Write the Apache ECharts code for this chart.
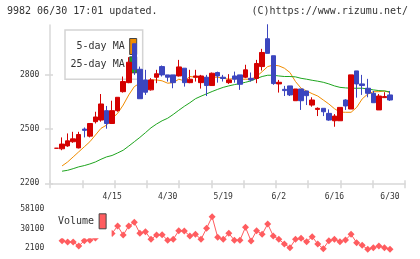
<!DOCTYPE html>
<html>
<head>
<meta charset="utf-8">
<script src="https://cdn.jsdelivr.net/npm/echarts@6/dist/echarts.min.js"></script>
<style>
  html, body { margin: 0; padding: 0; background: #fff; }
  #chart { width: 420px; height: 259px; }
</style>
</head>
<body>
<div id="chart"></div>
<script>
/* 9982 daily chart: candles + 5/25-day MA, volume below */
const dates = [
  '4/1','4/2','4/5','4/6','4/7','4/8','4/9','4/12','4/13','4/14',
  '4/15','4/16','4/19','4/20','4/21','4/22','4/23','4/26','4/27','4/28',
  '4/30','5/6','5/7','5/10','5/11','5/12','5/13','5/14','5/17','5/18',
  '5/19','5/20','5/21','5/24','5/25','5/26','5/27','5/28','5/31','6/1',
  '6/2','6/3','6/4','6/7','6/8','6/9','6/10','6/11','6/14','6/15',
  '6/16','6/17','6/18','6/21','6/22','6/23','6/24','6/25','6/28','6/29',
  '6/30'
];
const openP  = [2394,2391,2407,2430,2396,2500,2461,2541,2550,2602,2531,2602,2707,2757,2972,2831,2772,2717,2787,2846,
                2800,2800,2794,2837,2757,2787,2757,2787,2741,2813,2787,2757,2794,2800,2787,2781,2780,2846,3000,2906,
                2750,2720,2739,2657,2722,2711,2633,2609,2615,2587,2546,2546,2661,2611,2822,2750,2726,2698,2606,2674,2689];
const closeP = [2394,2417,2435,2446,2470,2493,2531,2567,2639,2531,2602,2676,2763,2870,2831,2668,2704,2772,2806,2800,
                2787,2757,2844,2757,2776,2794,2794,2741,2809,2794,2780,2772,2776,2748,2828,2772,2863,2924,2919,2752,
                2759,2713,2689,2722,2657,2685,2661,2615,2596,2550,2572,2620,2628,2800,2750,2741,2698,2646,2683,2680,2661];
const lowP   = [2394,2383,2402,2424,2393,2454,2454,2531,2541,2502,2528,2596,2702,2754,2800,2668,2689,2713,2754,2791,
                2763,2726,2791,2735,2754,2763,2724,2683,2739,2757,2763,2750,2757,2717,2782,2763,2754,2824,2919,2745,
                2702,2683,2683,2657,2606,2633,2624,2572,2572,2546,2513,2546,2606,2611,2674,2689,2676,2646,2606,2672,2656];
const highP  = [2394,2454,2476,2485,2485,2509,2531,2596,2694,2628,2657,2676,2791,2898,2972,2846,2828,2782,2828,2852,
                2800,2800,2883,2837,2828,2828,2800,2800,2813,2818,2800,2804,2818,2800,2856,2813,2883,2944,3080,2906,
                2772,2739,2739,2722,2722,2711,2676,2620,2615,2609,2583,2620,2665,2800,2822,2800,2778,2711,2694,2704,2711];
const ma5  = [null,2296,2318,2346,2374,2402,2430,2467,2504,2522,2559,2587,2633,2689,2735,2754,2767,2772,2772,2767,
              2754,2757,2776,2767,2791,2787,2787,2781,2787,2787,2781,2776,2780,2776,2776,2776,2791,2818,2846,2854,
              2850,2837,2813,2763,2726,2711,2696,2683,2661,2639,2613,2594,2593,2593,2620,2667,2694,2707,2707,2711,2702];
const ma25 = [null,2267,2272,2281,2291,2298,2307,2318,2333,2346,2354,2368,2383,2406,2430,2454,2480,2507,2528,2546,
              2560,2581,2604,2626,2646,2668,2682,2695,2708,2720,2731,2739,2746,2752,2759,2767,2780,2791,2798,2798,
              2794,2791,2791,2789,2781,2776,2770,2765,2759,2750,2739,2731,2728,2726,2726,2726,2722,2717,2713,2711,2706];
const volume = [null,13000,11150,11150,5400,13000,13600,16900,30000,45000,23500,34100,21200,34100,39400,23600,25900,15000,21200,21600,
                13600,15000,27400,26900,19800,22200,15000,30800,47500,17900,15000,23600,13600,13600,32300,12600,27400,22200,37000,19800,
                15000,8300,3000,15000,16500,11600,18800,8300,1500,13000,15000,11600,14000,22200,10100,6400,700,3000,5400,3000,700];
const priceTicks  = [2200, 2500, 2800];
const volumeTicks = [2100, 30100, 58100];

const UP = '#d40000', DOWN = '#3c46bf';
const MA5_C = '#f08c00', MA25_C = '#1ea51e', VOL_C = '#ff5c5f';
const AXIS_C = '#d8d8d8', TEXT_C = '#333';
const FONT = 'DejaVu Sans Mono';

/* 위치 */
const P_TOP = 25, P_BOTTOM = 75.7;
const C_LEFT = 53.72, C_WIDTH = 339.05;
const P_MIN = 2200, P_MAX = 3076;

const plain = (v) => String(v);   // no thousands separator
const candles = dates.map((d, i) => [openP[i], closeP[i], lowP[i], highP[i]]);

const chart = echarts.init(document.getElementById('chart'), null, { renderer: 'canvas' });

const frameX = (inside, len, showLine) => ({
  type: 'value', gridIndex: 0, position: 'bottom', min: 0, max: 11, interval: 1,
  axisLine: { show: showLine, lineStyle: { color: AXIS_C, width: 1.5 } },
  axisTick: { show: true, inside: inside, length: len, lineStyle: { color: AXIS_C, width: 1.5 } },
  axisLabel: { show: false }, splitLine: { show: false }
});
const frameY = (inside, len, showLine, showLabel) => ({
  type: 'value', gridIndex: 0, position: 'left', min: P_MIN, max: P_MAX,
  axisLine: { show: showLine, lineStyle: { color: AXIS_C, width: 1.5 } },
  axisTick: { show: true, inside: inside, length: len, customValues: priceTicks, lineStyle: { color: AXIS_C, width: 1.5 } },
  axisLabel: { show: showLabel, customValues: priceTicks, formatter: plain,
               fontFamily: FONT, fontSize: 8, color: TEXT_C, margin: 10.7 },
  splitLine: { show: false }
});

chart.setOption({
  animation: false,
  backgroundColor: '#fff',
  textStyle: { fontFamily: FONT },
  title: [
    { text: '9982 06/30 17:01 updated.', left: 7, top: 6, padding: 0,
      textStyle: { fontFamily: FONT, fontSize: 10, fontWeight: 'normal', color: TEXT_C } },
    { text: '(C)https://www.rizumu.net/', right: 12, top: 6, padding: 0,
      textStyle: { fontFamily: FONT, fontSize: 10, fontWeight: 'normal', color: TEXT_C } }
  ],
  legend: [
    { data: ['5-day MA', '25-day MA'], orient: 'vertical', align: 'right',
      left: 65, top: 30, z: 1, padding: [8, 5.5, 6, 5.5], itemGap: 1.3,
      icon: 'rect', itemWidth: 7, itemHeight: 16, selectedMode: false,
      backgroundColor: '#fff', borderColor: '#d4d4d4', borderWidth: 1.5,
      itemStyle: { borderColor: '#444', borderWidth: 1 },
      textStyle: { fontFamily: FONT, fontSize: 10, color: TEXT_C } },
    { data: ['Volume'], orient: 'vertical', align: 'right',
      left: 53, top: 205.3, z: 10, padding: [8, 5, 9, 5],
      icon: 'rect', itemWidth: 7, itemHeight: 15, selectedMode: false,
      backgroundColor: '#fff',
      itemStyle: { borderColor: '#444', borderWidth: 1 },
      textStyle: { fontFamily: FONT, fontSize: 10, color: TEXT_C } }
  ],
  grid: [
    { left: 50, right: 15, top: P_TOP, bottom: P_BOTTOM },
    { left: C_LEFT, width: C_WIDTH, top: P_TOP, bottom: P_BOTTOM },
    { left: C_LEFT, width: C_WIDTH, top: 209.3, height: 39 }
  ],
  xAxis: [
    frameX(true, 3, true),
    frameX(false, 5, false),
    { type: 'category', gridIndex: 1, data: dates, boundaryGap: true,
      axisLine: { show: false }, axisTick: { show: false }, splitLine: { show: false },
      axisLabel: { interval: (idx) => idx > 0 && idx % 10 === 0,
                   fontFamily: FONT, fontSize: 8, color: TEXT_C, margin: 10 } },
    { type: 'category', gridIndex: 2, data: dates, boundaryGap: true, show: false }
  ],
  yAxis: [
    frameY(false, 5, true, true),
    frameY(true, 3, false, false),
    { type: 'value', gridIndex: 1, min: P_MIN, max: P_MAX, show: false },
    { type: 'value', gridIndex: 2, min: volumeTicks[0], max: volumeTicks[2], interval: volumeTicks[1] - volumeTicks[0],
      axisLine: { show: false }, axisTick: { show: false }, splitLine: { show: false },
      axisLabel: { formatter: plain, fontFamily: FONT, fontSize: 8, color: TEXT_C, margin: 9.4 } }
  ],
  series: [
    { name: 'Price', type: 'candlestick', xAxisIndex: 2, yAxisIndex: 2, data: candles,
      barWidth: 5, clip: false, z: 3,
      itemStyle: { color: UP, color0: DOWN, borderColor: UP, borderColor0: DOWN, borderWidth: 1 } },
    { name: '5-day MA', type: 'line', xAxisIndex: 2, yAxisIndex: 2, data: ma5, z: 3,
      showSymbol: false, symbol: 'none', smooth: false,
      itemStyle: { color: MA5_C }, lineStyle: { color: MA5_C, width: 1 } },
    { name: '25-day MA', type: 'line', xAxisIndex: 2, yAxisIndex: 2, data: ma25, z: 3,
      showSymbol: false, symbol: 'none',
      itemStyle: { color: MA25_C }, lineStyle: { color: MA25_C, width: 1 } },
    { name: 'Volume', type: 'line', xAxisIndex: 3, yAxisIndex: 3, data: volume, z: 2,
      symbol: 'diamond', symbolSize: 7, showAllSymbol: true, clip: false, connectNulls: false,
      itemStyle: { color: VOL_C }, lineStyle: { color: VOL_C, width: 1 } }
  ]
});
</script>
</body>
</html>
